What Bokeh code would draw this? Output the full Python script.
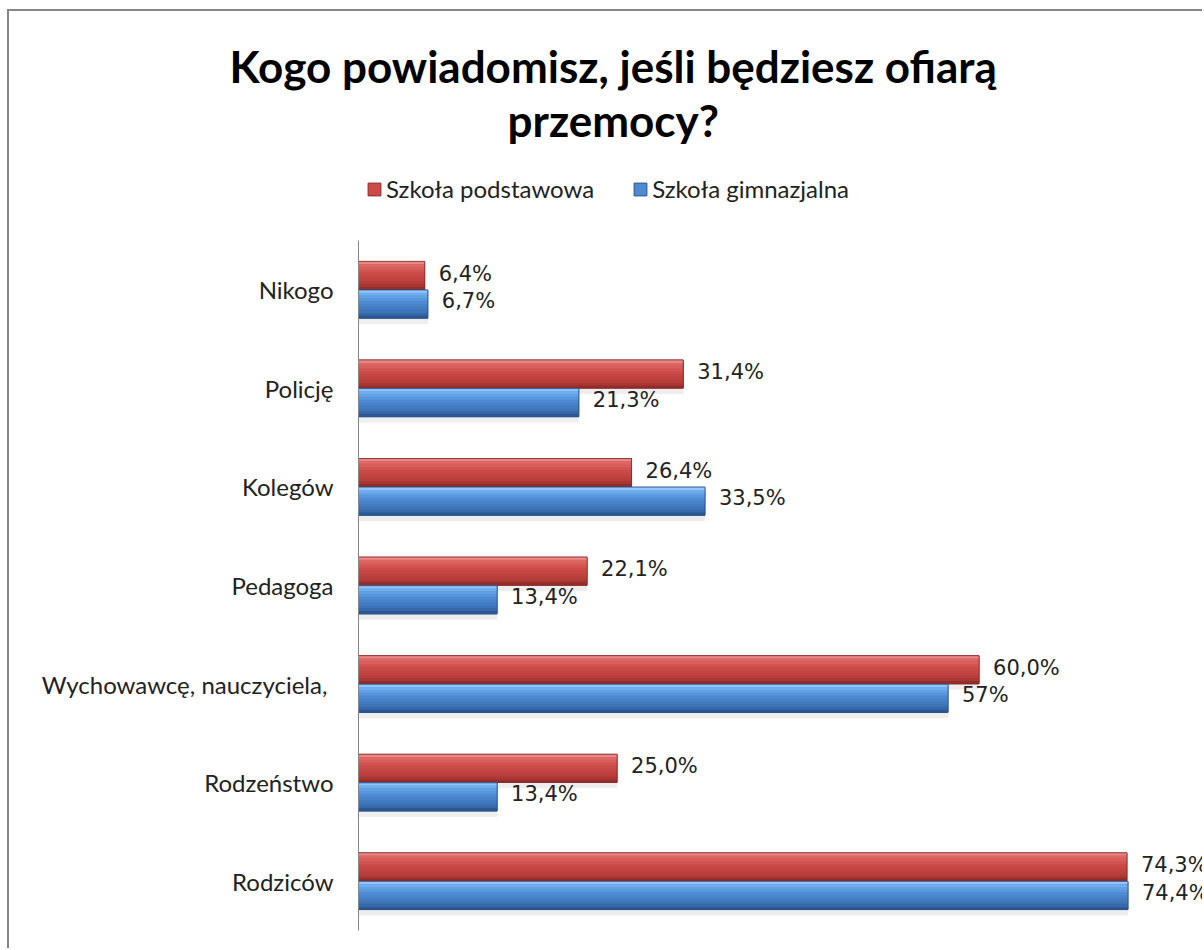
from bokeh.plotting import figure
from bokeh.models import (Range1d, Title, Legend, LegendItem, ColumnDataSource,
                          FixedTicker)
from bokeh.transform import dodge
from bokeh.embed import file_html
from bokeh.resources import INLINE
from bokeh.core.properties import value

# ---- data ----
categories = ["Nikogo", "Policję", "Kolegów", "Pedagoga",
              "Wychowawcę, nauczyciela, ", "Rodzeństwo", "Rodziców"]
podstawowa = [6.4, 31.4, 26.4, 22.1, 60.0, 25.0, 74.3]
gimnazjalna = [6.7, 21.3, 33.5, 13.4, 57.0, 13.4, 74.4]
podstawowa_labels = ["6,4%", "31,4%", "26,4%", "22,1%", "60,0%", "25,0%", "74,3%"]
gimnazjalna_labels = ["6,7%", "21,3%", "33,5%", "13,4%", "57%", "13,4%", "74,4%"]
series_names = ["Szkoła podstawowa", "Szkoła gimnazjalna"]
title_lines = ["Kogo powiadomisz, jeśli będziesz ofiarą", "przemocy?"]

n = len(categories)
ypos = [n - 1 - i for i in range(n)]  # first category at the top
src = ColumnDataSource(dict(y=ypos, p=podstawowa, g=gimnazjalna,
                            pl=podstawowa_labels, gl=gimnazjalna_labels))

W, H = 1195, 939
FRAME_H = 785          # frame from y=145 to y=930 (page px)
UNIT = 690 / n         # px per category band
p = figure(width=W, height=H, output_backend="svg", toolbar_location=None,
           y_range=Range1d(-0.5, -0.5 + FRAME_H / UNIT),
           x_range=Range1d(0, 81.8),
           min_border_left=349, min_border_right=0, min_border_bottom=20,
           min_border_top=134)
p.styles = {"margin-left": "7px", "margin-top": "9px",
            "border-left": "2px solid #868686", "border-top": "2px solid #868686"}
p.outline_line_color = None
p.background_fill_color = "white"
p.border_fill_color = "white"
p.xgrid.visible = False
p.ygrid.visible = False
p.xaxis.visible = False

yax = p.yaxis[0]
yax.ticker = FixedTicker(ticks=ypos)
yax.major_label_overrides = {y: c for y, c in zip(ypos, categories)}
yax.bounds = (-0.5, n - 0.5)
yax.axis_line_color = "#868686"
yax.axis_line_width = 1
yax.major_tick_line_color = None
yax.minor_tick_line_color = None
yax.major_tick_out = 0
yax.major_tick_in = 0
yax.major_label_standoff = 25
yax.major_label_text_font = "Lato"
yax.major_label_text_font_size = "24px"
yax.major_label_text_color = "#222222"

BH = 0.285
OFF = 0.145

def bands(stops, k=10):
    # piecewise colour bands from top (0) to bottom (1)
    def hx(c):
        return [int(c[i:i + 2], 16) for i in (1, 3, 5)]
    out = []
    for j in range(k):
        t = (j + 0.5) / k
        for (a, ca), (b, cb) in zip(stops[:-1], stops[1:]):
            if a <= t <= b:
                f = (t - a) / (b - a)
                c = [round(x + (y - x) * f) for x, y in zip(hx(ca), hx(cb))]
                out.append((j / k, (j + 1) / k, "#%02x%02x%02x" % tuple(c)))
                break
    return out

red_stops = [(0.0, "#f2a0a0"), (0.12, "#de6a67"), (0.45, "#cc4b48"),
             (0.8, "#b53c39"), (1.0, "#862826")]
blue_stops = [(0.0, "#a9d6fd"), (0.12, "#72b0f2"), (0.45, "#4d8ad3"),
              (0.8, "#3c70b4"), (1.0, "#284f88")]

main = {}
for col, center, stops, edge in [("p", OFF, red_stops, "#8a2a28"),
                                 ("g", -OFF, blue_stops, "#2a5288")]:
    # soft shadow
    p.hbar(y=dodge("y", center - 0.06), right=col, left=0,
           height=BH, source=src, fill_color="#c8c8c8", fill_alpha=0.3, line_color=None)
    r = p.hbar(y=dodge("y", center), right=col, left=0, height=BH,
               source=src, fill_color=stops[2][1], line_color=edge, line_width=1)
    main[col] = r
    for t0, t1, c in bands(stops):
        mid = center + BH / 2 - BH * (t0 + t1) / 2
        p.hbar(y=dodge("y", mid), right=col, left=0,
               height=BH * (t1 - t0) + 0.002, source=src, fill_color=c, line_color=None)
    p.hbar(y=dodge("y", center), right=col, left=0, height=BH,
           source=src, fill_color=None, line_color=edge, line_width=1, line_alpha=0.7)

p.text(x="p", y=dodge("y", OFF + 0.02), text="pl", source=src,
       x_offset=14, text_baseline="middle", text_align="left",
       text_font=value("DejaVu Sans"), text_font_size="21px", text_color="#222222")
p.text(x="g", y=dodge("y", -OFF + 0.03), text="gl", source=src,
       x_offset=14, text_baseline="middle", text_align="left",
       text_font=value("DejaVu Sans"), text_font_size="21px", text_color="#222222")

legend = Legend(items=[LegendItem(label=series_names[0], renderers=[main["p"]]),
                       LegendItem(label=series_names[1], renderers=[main["g"]])],
                orientation="horizontal", location=(8, 727),
                label_text_font="Lato", label_text_font_size="24px",
                label_text_color="#222222",
                glyph_width=16, glyph_height=16, label_standoff=4, spacing=38,
                padding=0, margin=0, border_line_color=None,
                background_fill_alpha=0)
p.add_layout(legend, "center")

t2 = Title(text=title_lines[1], align="left", offset=149, text_font="Lato",
           text_font_size="44px", text_font_style="bold", text_color="black",
           standoff=0)
t1 = Title(text=title_lines[0], align="left", offset=-129,
           text_font="Lato", text_font_size="44px", text_font_style="bold",
           text_color="black", standoff=0)
p.add_layout(t2, "above")
p.add_layout(t1, "above")

open("out.html", "w").write(file_html(p, INLINE))
